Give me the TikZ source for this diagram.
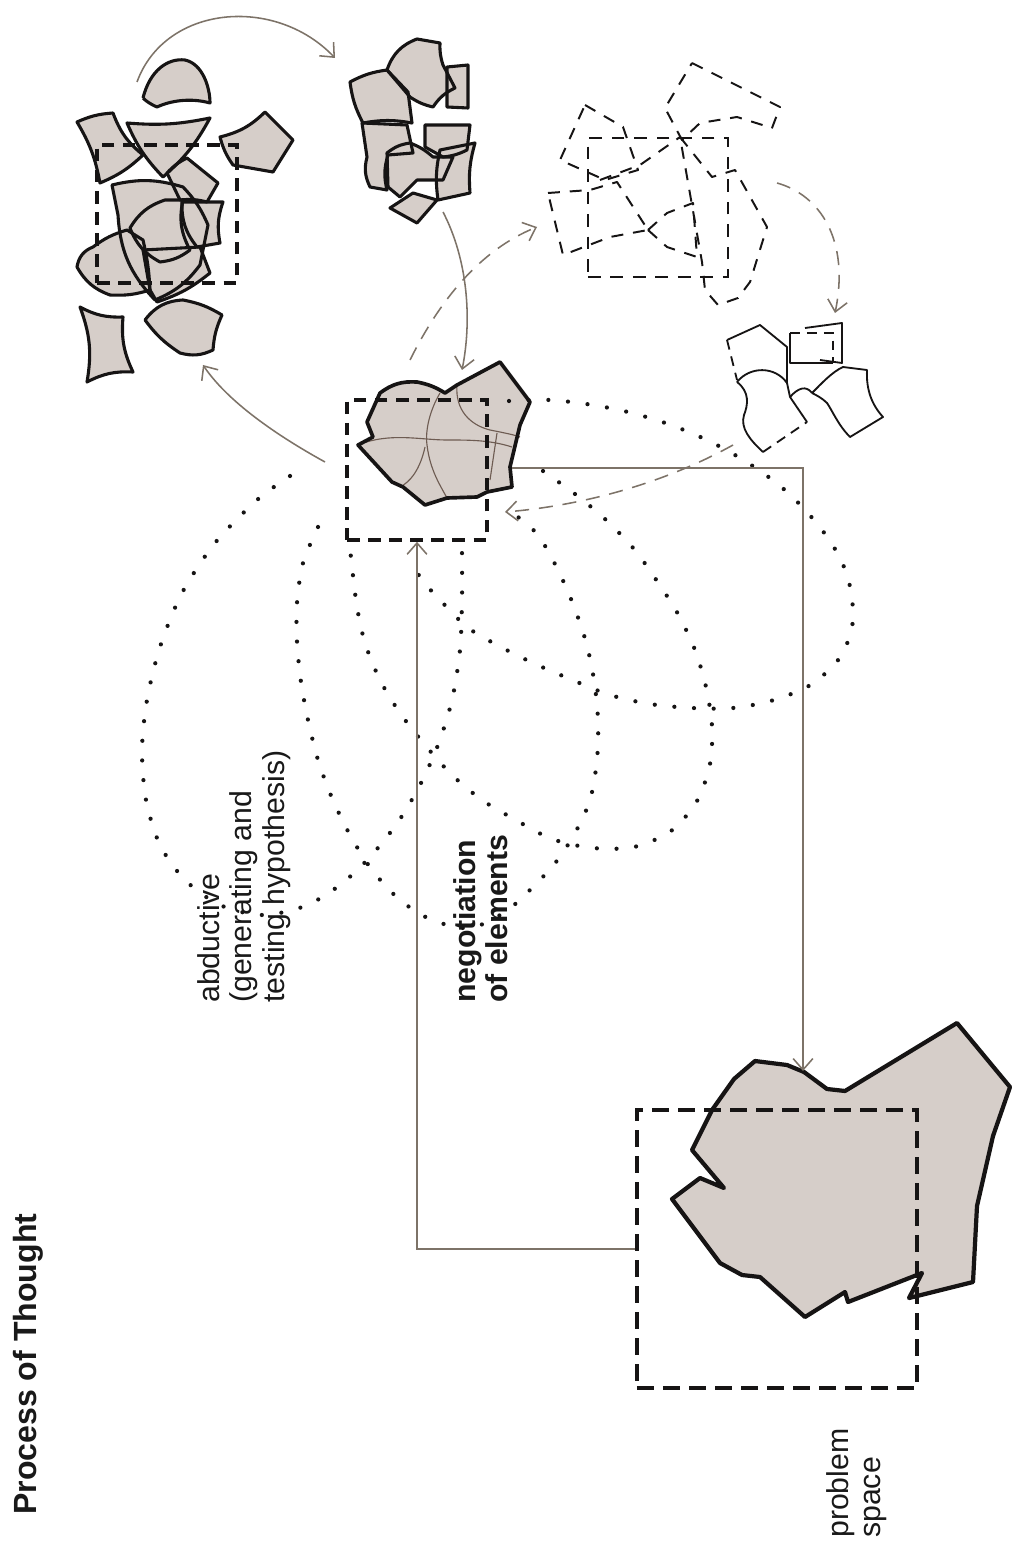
\documentclass[tikz,border=0pt]{standalone}
\usepackage{fontspec}
\setmainfont{Liberation Sans}
\usetikzlibrary{arrows.meta}
\definecolor{blobfill}{RGB}{214,206,201}
\definecolor{ink}{RGB}{22,20,20}
\definecolor{conn}{RGB}{125,115,104}
\definecolor{seam}{RGB}{110,92,82}
\definecolor{txt}{RGB}{25,25,25}
% top-left cluster pieces
\def\shpTLa{(143,98) .. controls (150,70) and (168,58) .. (185,60) .. controls (203,64) and (210,88) .. (210,103) .. controls (192,98) and (172,100) .. (157,107) .. controls (150,104) and (146,101) .. (143,98)}
\def\shpTLb{(77,122) to[bend left=10] (113,113) to[bend right=15] (143,155) to[bend left=10] (100,183) to[bend right=10] cycle}
\def\shpTLc{(127,123) to[bend right=8] (210,118) to[bend left=10] (163,177) to[bend left=10] cycle}
\def\shpTLd{(220,137) to[bend right=15] (265,112) -- (293,140) -- (273,172) -- (233,165) to[bend left=10] cycle}
\def\shpTLe{(167,173) to[bend left=10] (187,158) -- (218,183) -- (207,202) to[bend right=10] (180,200) -- cycle}
\def\shpTLf{(112,185) to[bend left=15] (183,187) to[bend left=10] (208,225) -- (200,265) to[bend left=15] (155,300) to[bend left=20] (118,215) -- cycle}
\def\shpTLg{(182,202) -- (223,202) to[bend right=15] (220,243) -- (197,247) to[bend left=20] cycle}
\def\shpTLh{(130,228) to[bend left=20] (165,200) -- (183,200) to[bend right=20] (190,250) to[bend left=15] (160,262) to[bend left=20] cycle}
\def\shpTLi{(77,267) to[bend left=30] (93,247) to[bend left=10] (127,230) -- (143,240) to[bend left=5] (150,290) to[bend left=10] (110,295) to[bend left=20] cycle}
\def\shpTLj{(143,250) -- (200,247) -- (210,273) to[bend left=10] (157,302) -- (150,290) -- cycle}
\def\shpTLk{(80,307) to[bend right=15] (123,317) to[bend right=15] (133,372) to[bend right=15] (87,382) to[bend right=15] cycle}
\def\shpTLl{(145,320) to[bend left=25] (183,300) to[bend left=10] (222,315) to[bend right=10] (213,350) to[bend left=20] (180,353) to[bend left=10] cycle}
% top-middle cluster pieces
\def\shpTMa{(350,82) to[bend left=10] (387,70) -- (408,92) -- (412,123) to[bend right=10] (363,123) to[bend left=10] cycle}
\def\shpTMb{(387,70) to[bend left=25] (417,39) -- (440,43) to[bend right=10] (443,65) -- (455,88) to[bend right=15] (433,107) to[bend left=10] (410,97) -- cycle}
\def\shpTMc{(447,67) -- (468,65) -- (468,108) -- (447,107) -- cycle}
\def\shpTMd{(362,123) -- (407,125) -- (413,153) -- (388,155) to[bend right=15] (387,190) -- (370,187) to[bend left=20] (367,157) -- cycle}
\def\shpTMe{(425,125) -- (470,125) -- (467,150) to[bend left=10] (443,157) -- (425,147) -- cycle}
\def\shpTMf{(387,153) to[bend left=15] (410,143) to[bend left=10] (433,157) -- (453,157) -- (443,180) -- (417,180) -- (400,197) -- (388,187) -- cycle}
\def\shpTMg{(440,150) -- (475,143) to[bend right=10] (470,193) -- (438,200) to[bend left=10] cycle}
\def\shpTMh{(390,208) -- (413,193) -- (437,200) -- (417,223) -- cycle}
% central blob
\def\shpCen{(367,422) -- (380,393) to[bend left=20] (417,382) to[bend left=10] (445,393) -- (457,385) -- (500,362) -- (530,402) -- (520,425) -- (510,467) -- (512,487) -- (487,492) -- (477,497) -- (447,498) -- (425,505) -- (403,487) -- (392,482) -- (358,445) -- (373,437) -- cycle}
% problem blob
\def\shpProb{(755,1061) -- (787,1065) -- (804,1072) -- (827,1089) -- (845,1091) -- (957,1023) -- (1010,1087) -- (993,1136) -- (977,1206) -- (973,1282) -- (909,1298) -- (922,1273) -- (848,1302) -- (845,1292) -- (805,1317) -- (760,1277) -- (742,1275) -- (720,1263) -- (672,1199) -- (700,1178) -- (724,1188) -- (692,1150) -- (712,1110) -- (734,1079) -- cycle}

\begin{document}
\begin{tikzpicture}[x=0.025cm,y=-0.025cm,
  pc/.style={draw=ink, line width=2.2pt, line join=round},
  sqbox/.style={draw=ink, line width=2.6pt, dash pattern=on 9pt off 6pt, inner sep=0pt},
  psqbox/.style={draw=ink, line width=3pt, dash pattern=on 12pt off 6.5pt, inner sep=0pt},
  thinsq/.style={draw=ink, line width=1.5pt, dash pattern=on 9pt off 7pt, inner sep=0pt},
  dc/.style={draw=ink, line width=1.4pt, dash pattern=on 8.5pt off 7pt, line join=round},
  oc/.style={draw=ink, line width=1.3pt, line join=round},
  ocd/.style={draw=ink, line width=1.3pt, dash pattern=on 7pt off 5pt},
  seamline/.style={draw=seam, line width=0.8pt},
  dotline/.style={draw=ink, line width=3pt, line cap=round, dash pattern=on 0pt off 14pt},
  arr/.style={draw=conn, line width=1.1pt, -{Straight Barb[length=8pt,width=14pt]}},
  darr/.style={draw=conn, line width=1.1pt, dash pattern=on 10pt off 7pt, -{Straight Barb[length=8pt,width=14pt]}},
  lbl/.style={rotate=90, anchor=north west, inner sep=0pt, align=left, text=txt, font=\fontsize{21.5}{23.2}\selectfont},
]
\useasboundingbox (0,0) rectangle (1011,1542);
\fill[white] (0,0) rectangle (1011,1542);

% ---------- top-left cluster ----------
\foreach \s in {\shpTLa,\shpTLb,\shpTLc,\shpTLd,\shpTLe,\shpTLf,\shpTLg,\shpTLh,\shpTLi,\shpTLj,\shpTLk,\shpTLl}{\fill[blobfill] \s;}
\foreach \s in {\shpTLa,\shpTLb,\shpTLc,\shpTLd,\shpTLe,\shpTLf,\shpTLg,\shpTLh,\shpTLi,\shpTLj,\shpTLk,\shpTLl}{\draw[pc] \s;}
\node[sqbox, minimum width=3.5cm, minimum height=3.45cm] (tl) at (167,214) {};

% ---------- top-middle cluster ----------
\foreach \s in {\shpTMa,\shpTMb,\shpTMc,\shpTMd,\shpTMe,\shpTMf,\shpTMg,\shpTMh}{\fill[blobfill] \s;}
\foreach \s in {\shpTMa,\shpTMb,\shpTMc,\shpTMd,\shpTMe,\shpTMf,\shpTMg,\shpTMh}{\draw[pc] \s;}

% ---------- dashed cluster ----------
\node[thinsq, minimum width=3.5cm, minimum height=3.47cm] (dsh) at (658,207.5) {};
\draw[dc] (692,63) -- (780,107) -- (772,128) -- (737,117) -- (700,123) -- (682,140) -- (665,108) -- cycle;
\draw[dc] (585,105) -- (623,127) -- (638,170) -- (605,180) -- (560,160) -- cycle;
\draw[dc] (548,193) -- (590,190) -- (617,182) -- (648,230) -- (610,237) -- (563,255) -- cycle;
\draw[dc] (680,137) -- (712,177) -- (735,170) -- (767,227) -- (750,282) -- (738,298) -- (718,305) -- (705,290) -- (702,262) -- cycle;
\draw[dc] (648,230) -- (667,213) -- (693,203) -- (697,257) -- (667,247) -- cycle;
\draw[dc] (600,180) -- (640,165) -- (680,137);

% ---------- outline cluster ----------
\draw[ocd] (727,340) -- (737,380);
\draw[oc] (727,340) -- (760,325) -- (787,347) -- (787,383);
\draw[oc] (737,382) .. controls (750,366) and (775,366) .. (787,383);
\draw[oc] (737,382) .. controls (750,392) and (748,405) .. (744,415) .. controls (740,428) and (750,440) .. (763,452);
\draw[ocd] (763,452) -- (807,422);
\draw[oc] (807,422) -- (790,397) -- (787,383);
\draw[ocd] (790,333) -- (833,333) -- (833,363);
\draw[oc] (790,333) -- (790,363) -- (833,363);
\draw[oc] (805,328) -- (842,323) -- (842,363) -- (820,360);
\draw[oc] (812,393) .. controls (822,383) and (832,372) .. (843,367) -- (867,370) .. controls (866,390) and (872,405) .. (883,417) -- (850,437) .. controls (838,425) and (832,410) .. (827,403) .. controls (822,398) and (816,395) .. (812,393);
\draw[oc] (790,397) .. controls (798,388) and (806,385) .. (812,393);

% ---------- central node ----------
\fill[blobfill] \shpCen;
\draw[seamline] (358,445) .. controls (390,432) and (420,440) .. (447,440) .. controls (470,440) and (490,440) .. (512,447);
\draw[seamline] (440,393) .. controls (430,410) and (425,430) .. (427,445);
\draw[seamline] (457,385) .. controls (455,410) and (470,425) .. (490,430) .. controls (505,433) and (515,435) .. (520,437);
\draw[seamline] (427,445) .. controls (430,470) and (440,485) .. (447,498);
\draw[seamline] (425,447) .. controls (420,470) and (410,482) .. (400,487);
\draw[seamline] (497,433) -- (490,480);
\draw[pc, line width=2.6pt] \shpCen;
\node[sqbox, minimum width=3.5cm, minimum height=3.5cm] (cen) at (417,470) {};

% ---------- dotted petals ----------
\draw[dotline] plot[smooth] coordinates {(290,476) (257,500) (215,543) (182,593) (160,647) (147,700) (142,750) (146,800) (160,845) (185,880) (220,905) (262,915) (305,906) (340,885) (370,857) (398,822) (420,785) (438,745) (452,700) (460,650) (462,600) (462,553)};
\draw[dotline] plot[smooth] coordinates {(318,527) (303,563) (297,603) (297,642) (301,682) (308,720) (318,760) (332,798) (350,835) (372,870) (400,900) (432,920) (470,928) (505,912) (532,888) (556,862) (575,833) (590,800) (597,760) (598,720) (594,680) (586,642) (573,604) (557,568) (538,535) (518,517)};
\draw[dotline] plot[smooth] coordinates {(543,471) (575,494) (605,519) (634,549) (657,581) (678,614) (695,650) (706,687) (712,726) (710,764) (697,801) (671,831) (634,847) (593,848) (552,839) (514,819) (482,800) (452,775) (425,745) (400,713) (380,680) (365,643) (357,607) (352,567) (350,548)};
\draw[dotline] plot[smooth] coordinates {(509,401) (550,400) (593,405) (632,413) (671,425) (709,441) (745,461) (779,485) (807,512) (832,544) (848,578) (853,620) (841,656) (812,684) (774,700) (733,708) (692,708) (650,704) (610,695) (570,679) (533,663) (497,645) (467,627) (440,600) (422,580) (412,563)};

% ---------- problem space ----------
\fill[blobfill] \shpProb;
\draw[pc, line width=3pt] \shpProb;
\node[psqbox, minimum width=7cm, minimum height=6.95cm] (ps) at (777,1249) {};

% ---------- connectors ----------
\coordinate (tlOut) at (137,82);
\coordinate (tmIn) at (335,58);
\coordinate (tmOut) at (443,212);
\coordinate (cenTop) at (462,370);
\coordinate (cenLeft) at (325,462);
\coordinate (tlIn) at (203,365);
\coordinate (cenUp) at (410,360);
\coordinate (dshIn) at (537,227);
\coordinate (dshOut) at (777,183);
\coordinate (ocIn) at (835,313);
\coordinate (ocOut) at (733,445);
\coordinate (cenIn) at (505,512);
\coordinate (cenRight) at (512,468);
\coordinate (psTop) at (803,1071);

\draw[arr] (tlOut) .. controls (165,5) and (275,-5) .. (tmIn);
\draw[arr] (tmOut) .. controls (468,260) and (472,320) .. (cenTop);
\draw[arr] (cenLeft) .. controls (285,440) and (230,405) .. (tlIn);
\draw[darr] (cenUp) .. controls (440,300) and (480,250) .. (dshIn);
\draw[darr] (dshOut) .. controls (820,195) and (850,240) .. (ocIn);
\draw[darr] (ocOut) .. controls (670,480) and (590,505) .. (cenIn);
\draw[arr] (cenRight) -| (psTop);
\draw[arr] (ps.west) -| (cen.south);

% ---------- labels ----------
\node[rotate=90, anchor=north west, inner sep=0pt, text=txt, font=\bfseries\fontsize{22.8}{26}\selectfont] (title) at (13,1515) {Process of Thought};
\node[lbl] (abd) at (197,1003) {abductive\\(generating and\\testing hypothesis)};
\node[lbl, font=\bfseries\fontsize{21.5}{23.2}\selectfont] (neg) at (453,1003) {negotiation\\of elements};
\node[lbl] (pst) at (826,1538) {problem\\space};
\end{tikzpicture}
\end{document}
